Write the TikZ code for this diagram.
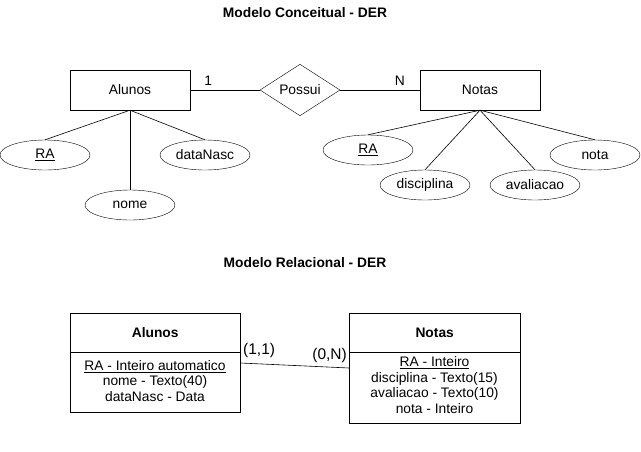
\documentclass[tikz,border=0pt]{standalone}
\usepackage{fontspec}
\setmainfont{Liberation Sans}
\usetikzlibrary{shapes.geometric,calc}
\begin{document}
\begin{tikzpicture}[x=1pt,y=-1pt,
  every node/.style={font=\fontsize{13.8}{16}\selectfont},
  entity/.style={draw,minimum width=120pt,minimum height=40pt,inner sep=0pt},
  attr/.style={draw,ellipse,minimum width=90pt,minimum height=30pt,inner sep=0pt},
  rel/.style={draw,diamond,minimum width=80pt,minimum height=40pt,inner sep=0pt},
  ttl/.style={font=\fontsize{13.8}{16}\selectfont\bfseries},
  card/.style={inner sep=0pt},
  bigcard/.style={inner sep=0pt,font=\fontsize{15.5}{17}\selectfont},
  thead/.style={draw,minimum width=171pt,minimum height=39pt,inner sep=0pt,anchor=north west,font=\fontsize{13.8}{16}\selectfont\bfseries},
  tbody/.style={draw,minimum width=171pt,inner sep=0pt,anchor=north west},
  rows/.style={align=center,inner sep=0pt,font=\fontsize{13.8}{15.6}\selectfont},
  link/.style={draw,line width=0.6pt}
]
\useasboundingbox (0,0) rectangle (641,451);
\node[ttl] (t1) at (305,13) {Modelo Conceitual - DER};
\node[entity] (alunos) at (130,90) {Alunos};
\node[rel] (possui) at (300,90) {Possui};
\node[entity] (notas) at (480,90) {Notas};
\draw[link] (alunos) -- (possui) node[card,pos=0.26,above=4pt] (c1) {1};
\draw[link] (possui) -- (notas) node[card,pos=0.75,above=4pt] (cN) {N};
\node[attr] (ara) at (45,155) {\underline{RA}};
\node[attr] (adn) at (205,155) {dataNasc};
\node[attr] (anome) at (130,205) {nome};
\draw[link] (alunos.south) -- (ara.north);
\draw[link] (alunos.south) -- (adn.north);
\draw[link] (alunos.south) -- (anome.north);
\node[attr] (nra) at (368,150) {\underline{RA}};
\node[attr] (ndisc) at (425,185) {disciplina};
\node[attr] (naval) at (535,185) {avaliacao};
\node[attr] (nnota) at (595,155) {nota};
\draw[link] (notas.south) -- (nra.north);
\draw[link] (notas.south) -- (ndisc.north);
\draw[link] (notas.south) -- (naval.north);
\draw[link] (notas.south) -- (nnota.north);
\node[ttl] (t2) at (305,263) {Modelo Relacional - DER};
\node[thead,minimum width=170pt] (ah) at (70,313) {Alunos};
\node[tbody,minimum width=170pt,minimum height=60pt] (ab) at (70,352) {};
\node[rows] (at) at (155,381) {\underline{RA - Inteiro automatico}\\nome - Texto(40)\\dataNasc - Data};
\node[thead] (nh) at (349,313) {Notas};
\node[tbody,minimum height=71pt] (nb) at (349,352) {};
\node[rows] (nt) at (434.5,385) {\underline{RA - Inteiro}\\disciplina - Texto(15)\\avaliacao - Texto(10)\\nota - Inteiro};
\coordinate (la) at ($(ab.north east)+(0,11)$);
\coordinate (lb) at ($(nb.north west)+(0,16)$);
\draw[link] (la) -- (lb);
\node[bigcard,anchor=west] (k1) at (243,350) {(1,1)};
\node[bigcard,anchor=east] (k2) at (347,355) {(0,N)};
\end{tikzpicture}
\end{document}
